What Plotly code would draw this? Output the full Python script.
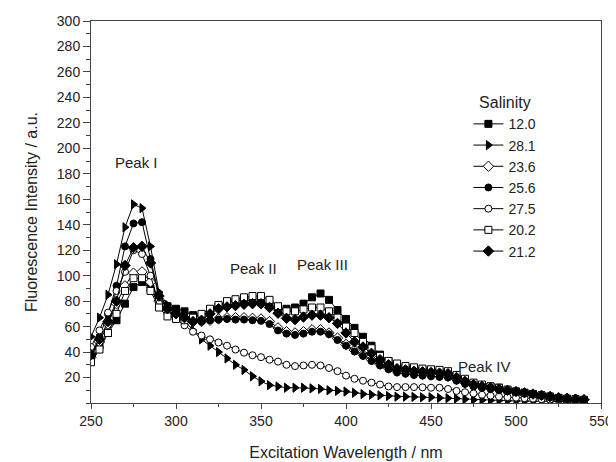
import plotly.graph_objects as go

wavelength = list(range(250, 545, 5))

s_12_0 = [33, 45, 55, 65, 78, 91, 95, 90, 80, 76, 74, 72, 69, 68, 72, 76, 79, 80, 81, 80,
          79, 77, 75, 74, 75, 78, 83, 86, 81, 73, 66, 59, 52, 45, 38, 33, 29, 28, 27, 26,
          25, 25, 24, 21, 18, 15, 14, 13, 12, 10, 9, 8, 7, 6, 5, 4, 3, 3, 2]
s_28_1 = [52, 67, 85, 109, 138, 156, 153, 123, 87, 77, 72, 65, 57, 50, 45, 40, 35, 30, 26, 21,
          17, 14, 13, 12, 12, 12, 11.5, 11, 10, 9.5, 9, 8, 7, 6.5, 6, 5.5, 5, 5, 4.8, 4.5,
          4.5, 4, 3.8, 3.5, 3, 2.5, 2.3, 2, 2, 1.8, 1.6, 1.5, 1.4, 1.3, 1.2, 1.1, 1, 1, 1]
s_23_6 = [36, 48, 62, 78, 92, 102, 103, 95, 80, 72, 69, 66, 64, 64, 65, 66, 67, 67, 67, 66.5,
          66, 64, 59, 56, 55, 56, 57.5, 57.5, 55, 51, 46, 41.5, 38, 34, 30.5, 27.5, 25, 24, 23, 22.5,
          22, 21.5, 21, 18.5, 16, 14, 12.5, 11.5, 10.5, 9.5, 8.5, 7.5, 6.5, 5.5, 5, 4, 3.5, 3, 2.5]
s_25_6 = [35, 52, 70, 92, 123, 141, 142, 113, 85, 75, 70, 67, 64, 64, 65, 65.5, 66, 65.5, 65.5, 65,
          64.5, 62, 57, 54.5, 53.5, 54.5, 56, 56, 54, 49.5, 45, 40.5, 37, 33, 29.5, 26.5, 24, 23, 22, 21.5,
          21, 20.5, 20, 17.5, 15, 13, 12, 11, 10, 9, 8, 7, 6, 5.5, 4.5, 3.5, 3, 2.5, 2]
s_27_5 = [44, 57, 71, 88, 103, 120, 117, 100, 78, 70, 66, 61, 56, 53, 50, 47.5, 45, 42, 39.5, 37.5,
          36, 34, 32.5, 30, 29, 29.5, 30, 29.5, 27.5, 25, 21.5, 19, 17.5, 16, 14.5, 13, 12.5, 12.5, 12.5, 12.3,
          12, 12, 11, 9.5, 8.5, 7.5, 6.5, 5.8, 5, 4.6, 4.2, 3.8, 3.4, 3, 2.7, 2.4, 2, 1.8, 1.5]
s_20_2 = [32, 42, 55, 70, 88, 98, 98, 88, 75, 68, 66, 65, 67, 70, 74, 77, 80, 81.5, 83, 84,
          84, 81, 76, 72, 72, 73.5, 75, 75, 72, 67, 60, 55, 48, 43, 37, 33, 31, 29, 28, 27,
          26.5, 26, 25, 22, 19, 16, 14.5, 13, 12, 10.5, 9, 8, 7, 6, 5, 4, 3.5, 3, 2.5]
s_21_2 = [38, 50, 64, 80, 108, 122, 123, 110, 84, 74, 70, 67, 64, 65, 70, 74, 75.5, 76.5, 77.5, 78,
          78, 75, 70.5, 66.5, 65.5, 67.5, 69, 69, 67, 62.5, 55, 48, 44, 39, 34, 30, 27, 26, 25, 24.5,
          24, 23.5, 23, 20, 17, 14.5, 13, 12, 11, 10, 9, 8, 7, 6, 5, 4, 3.5, 3, 2.5]

series_names = ["12.0", "28.1", "23.6", "25.6", "27.5", "20.2", "21.2"]
series_values = [s_12_0, s_28_1, s_23_6, s_25_6, s_27_5, s_20_2, s_21_2]
# (symbol, filled)
series_styles = [("square", True), ("triangle-right", True), ("diamond", False),
                 ("circle", True), ("circle", False), ("square", False), ("diamond", True)]

peak_labels = ["Peak I", "Peak II", "Peak III", "Peak IV"]
peak_x = [276.5, 345.5, 386, 481.5]
peak_y = [188.5, 106, 109, 29]

x_ticks = [250, 300, 350, 400, 450, 500, 550]
y_ticks = list(range(20, 301, 20))

FONT = "Liberation Sans, Arial, sans-serif"
INK = "#222222"
AX = "#444444"

fig = go.Figure()
for name, vals, (sym, filled) in zip(series_names, series_values, series_styles):
    assert len(vals) == len(wavelength), name
    size = 7
    if sym in ("triangle-right", "diamond"):
        size = 8
    fig.add_trace(go.Scatter(
        x=wavelength, y=vals, name=name, mode="lines+markers",
        line=dict(color="black", width=1),
        marker=dict(symbol=sym, size=size,
                    color="black" if filled else "white",
                    line=dict(color="black", width=1)),
    ))

for t, xx, yy in zip(peak_labels, peak_x, peak_y):
    fig.add_annotation(x=xx, y=yy, text=t, showarrow=False,
                       font=dict(family=FONT, size=15, color=INK))

axis_common = dict(showline=True, linecolor=AX, linewidth=1, mirror=True,
                   ticks="outside", tickwidth=1, tickcolor=AX,
                   showgrid=False, zeroline=False,
                   tickfont=dict(family=FONT, size=14, color=INK))

fig.update_xaxes(range=[250, 550], tickvals=x_ticks, ticklen=5,
                 minor=dict(dtick=25, tick0=250, ticks="outside", ticklen=3, tickcolor=AX),
                 title=dict(text="Excitation Wavelength / nm", standoff=19,
                            font=dict(family=FONT, size=16, color=INK)),
                 **axis_common)
fig.update_yaxes(range=[0, 300], tickvals=y_ticks, ticklen=7,
                 minor=dict(dtick=10, tick0=0, ticks="outside", ticklen=4, tickcolor=AX),
                 title=dict(text="Fluorescence Intensity / a.u.", standoff=15,
                            font=dict(family=FONT, size=16, color=INK)),
                 **axis_common)

# page body has an 8px default margin: shrink figure so the plot area lands where the reference's does
fig.update_layout(
    width=608, height=454,
    margin=dict(l=83, r=15, t=13, b=59, autoexpand=False),
    paper_bgcolor="white", plot_bgcolor="white",
    showlegend=True,
    legend=dict(x=0.74, y=0.826, xanchor="left", yanchor="top",
                bgcolor="rgba(0,0,0,0)",
                font=dict(family=FONT, size=14, color=INK),
                title=dict(text="Salinity", side="top center",
                           font=dict(family=FONT, size=16, color=INK))),
)

fig.write_html("out.html")
